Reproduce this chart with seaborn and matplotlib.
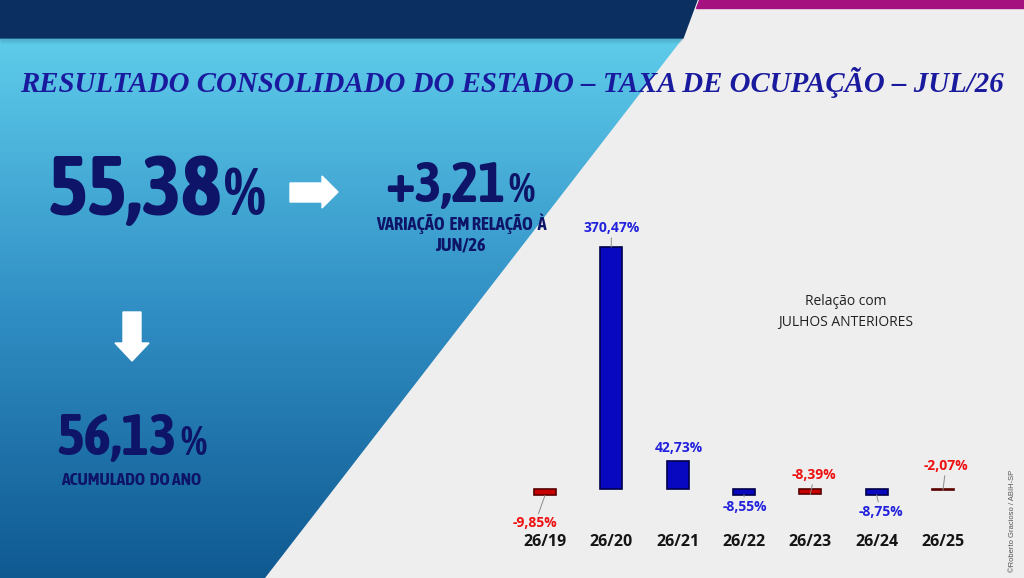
import matplotlib
matplotlib.use("Agg")
import matplotlib.pyplot as plt
from matplotlib import font_manager
from matplotlib.font_manager import FontProperties
from matplotlib.patches import Polygon, Rectangle
import numpy as np
import pandas as pd
import seaborn as sns

# chart data
categories = ["26/19", "26/20", "26/21", "26/22", "26/23", "26/24", "26/25"]
variation = [-9.85, 370.47, 42.73, -8.55, -8.39, -8.75, -2.07]
bar_colors = ["#c80000", "#0808c0", "#0808c0", "#0808c0", "#c80000", "#0808c0", "#c80000"]
edge_colors = ["#5a0000", "#00004a", "#00004a", "#00004a", "#5a0000", "#00004a", "#5a0000"]
label_colors = ["#ee1111", "#2222dd", "#2222dd", "#2222dd", "#ee1111", "#2222dd", "#ee1111"]

occupancy_jul = 55.38
change_vs_jun = 3.21
occupancy_ytd = 56.13

title = "RESULTADO CONSOLIDADO DO ESTADO \u2013 TAXA DE OCUPA\u00c7\u00c3O \u2013 JUL/26"
note = "Rela\u00e7\u00e3o com\nJULHOS ANTERIORES"
credit = "\u00a9Roberto Gracioso / ABIH-SP"

# label offsets from bar end, in pixels (dx, dy up) and whether a leader line is drawn
label_offsets = [(-10, -28), (0, 19), (1, 13), (1, -12), (4, 19.5), (4, -17), (3, 24.5)]
leaders = [True, True, False, True, True, True, True]


def fmt(v, sign=False):
    s = f"{v:+.2f}" if sign else f"{v:.2f}"
    return s.replace(".", ",")


# pick a condensed bold sans (Arial Narrow look) for the big figures
def width_rank(f):
    n = f.name.replace(" ", "")
    if "ExtraCondensed" in n or "UltraCondensed" in n or f.stretch in ("extra-condensed", "ultra-condensed"):
        return 3
    if "SemiCondensed" in n or f.stretch == "semi-condensed":
        return 2
    if "Condensed" in n or f.stretch == "condensed":
        return 0
    if "Narrow" in n:
        return 1
    return None


def weight_num(f):
    w = f.weight
    if isinstance(w, str):
        return font_manager.weight_dict.get(w.lower(), 400)
    return w


narrow_fonts = [f for f in font_manager.fontManager.ttflist
                if width_rank(f) is not None and f.style == "normal"
                and "Mono" not in f.name and "Serif" not in f.name]
narrow_fonts.sort(key=lambda f: (width_rank(f), abs(weight_num(f) - 700), f.name))
if narrow_fonts:
    big_font = dict(fontproperties=FontProperties(fname=narrow_fonts[0].fname))
    rank = width_rank(narrow_fonts[0])
    shrink = {0: 1.05, 1: 1.0, 2: 0.95, 3: 1.1}[rank]
else:
    big_font = dict(family="Liberation Sans", fontweight="bold")
    shrink = 0.87

navy = "#0e1468"

W, H = 1024, 578
fig = plt.figure(figsize=(W / 100, H / 100), dpi=100)
bg = fig.add_axes([0, 0, 1, 1])
bg.axis("off")
bg.add_patch(Rectangle((0, 0), W, H, color="#eeeeee", zorder=0))

# blue wedge with vertical gradient
stops = np.array([[0.37, 0.80, 0.92], [0.19, 0.56, 0.77], [0.06, 0.35, 0.57]])
t = np.linspace(0, 1, 256)
grad = np.stack([np.interp(t, [0, 0.5, 1], stops[:, k]) for k in range(3)], axis=1)[:, None, :]
img = bg.imshow(grad, extent=(0, 700, H, 38), aspect="auto", zorder=1)
wedge = Polygon([(0, 38), (683, 38), (265, H), (0, H)], closed=True,
                facecolor="none", edgecolor="none")
bg.add_patch(wedge)
img.set_clip_path(wedge)

# top bands
for k in range(5):
    bg.plot([0, 683 - k * 0.78], [38.5 + k, 38.5 + k], color="black",
            alpha=0.10 * (1 - k / 5), lw=1, zorder=2, solid_capstyle="butt")
bg.add_patch(Polygon([(0, 0), (697, 0), (683, 38), (0, 38)], color="#0b2f60", zorder=3))
bg.add_patch(Polygon([(699, 0), (W, 0), (W, 8), (696, 8)], color="#a5127f", zorder=3))

# white arrows
bg.add_patch(Polygon([(290, 183), (322, 183), (322, 176), (338, 192), (322, 208),
                      (322, 202), (290, 202)], color="white", zorder=4))
bg.add_patch(Polygon([(123, 312), (141, 312), (141, 343), (149, 343), (132, 361),
                      (115, 343), (123, 343)], color="white", zorder=4))

bg.set_xlim(0, W)
bg.set_ylim(H, 0)

bg.text(511.5, 82, title, ha="center", va="center", fontsize=20.8, family="Liberation Serif",
        fontweight="bold", fontstyle="italic", color="#1a1a9e", zorder=5)

renderer = fig.canvas.get_renderer()


def headline(xc, baseline, number, size_num, size_pct):
    kw = dict(va="baseline", ha="left", color=navy, zorder=5, **big_font)
    t1 = bg.text(0, baseline, number, fontsize=size_num * shrink, **kw)
    t2 = bg.text(0, baseline, "%", fontsize=size_pct * shrink, **kw)
    w1 = t1.get_window_extent(renderer).width
    w2 = t2.get_window_extent(renderer).width
    x0 = xc - (w1 + 3 + w2) / 2
    t1.set_x(x0)
    t2.set_x(x0 + w1 + 3)


headline(156.5, 215, fmt(occupancy_jul), 58, 46)
headline(460, 202, fmt(change_vs_jun, sign=True), 39, 29)
headline(131.5, 455, fmt(occupancy_ytd), 40, 29)

sub_kw = dict(ha="center", va="center", color=navy, zorder=5, **big_font)
bg.text(461, 224, "VARIA\u00c7\u00c3O  EM RELA\u00c7\u00c3O  \u00c0", fontsize=12.5 * shrink, **sub_kw)
bg.text(460, 245, "JUN/26", fontsize=12.5 * shrink, **sub_kw)
bg.text(131, 480, "ACUMULADO  DO ANO", fontsize=12 * shrink, **sub_kw)

bg.text(846, 312, note, ha="center", va="center", fontsize=10, linespacing=1.5,
        family="Open Sans", color="#222222", zorder=5)
bg.text(1013, 521, credit, rotation=90, ha="center", va="center", fontsize=5.5,
        family="Liberation Sans", color="#555555", zorder=5)

# bar chart: zero line at y=489 px, 0.6532 px per percentage point, 66.33 px per category
ax = fig.add_axes([511.8 / W, (H - 529.5) / H, 464.3 / W, (529.5 - 214.7) / H])
ax.patch.set_alpha(0)
df = pd.DataFrame({"periodo": categories, "variacao": variation})
sns.barplot(data=df, x="periodo", y="variacao", hue="periodo", palette=bar_colors,
            width=0.33, legend=False, ax=ax, linewidth=1.2, saturation=1)
for bar, ec in zip(ax.patches, edge_colors):
    bar.set_edgecolor(ec)
ax.set_xlim(-0.5, 6.5)
ax.set_ylim(-62, 420)
ax.set_xlabel("")
ax.set_ylabel("")
ax.set_yticks([])
for s in ax.spines.values():
    s.set_visible(False)
ax.tick_params(axis="x", length=0, pad=3, labelsize=11.5, labelcolor="#151515")
for lbl in ax.get_xticklabels():
    lbl.set_fontweight("bold")
    lbl.set_family("Open Sans")

for i, v in enumerate(variation):
    dx, dy = label_offsets[i]
    arrow = dict(arrowstyle="-", color="#8a8a8a", lw=0.7, shrinkA=0, shrinkB=0) if leaders[i] else None
    ax.annotate(fmt(v) + "%", xy=(i, v), xytext=(dx * 0.72, dy * 0.72), textcoords="offset points",
                ha="center", va="center", color=label_colors[i], fontsize=10,
                fontweight="bold", family="Open Sans", arrowprops=arrow, annotation_clip=False)

fig.savefig("out.png", dpi=100)
